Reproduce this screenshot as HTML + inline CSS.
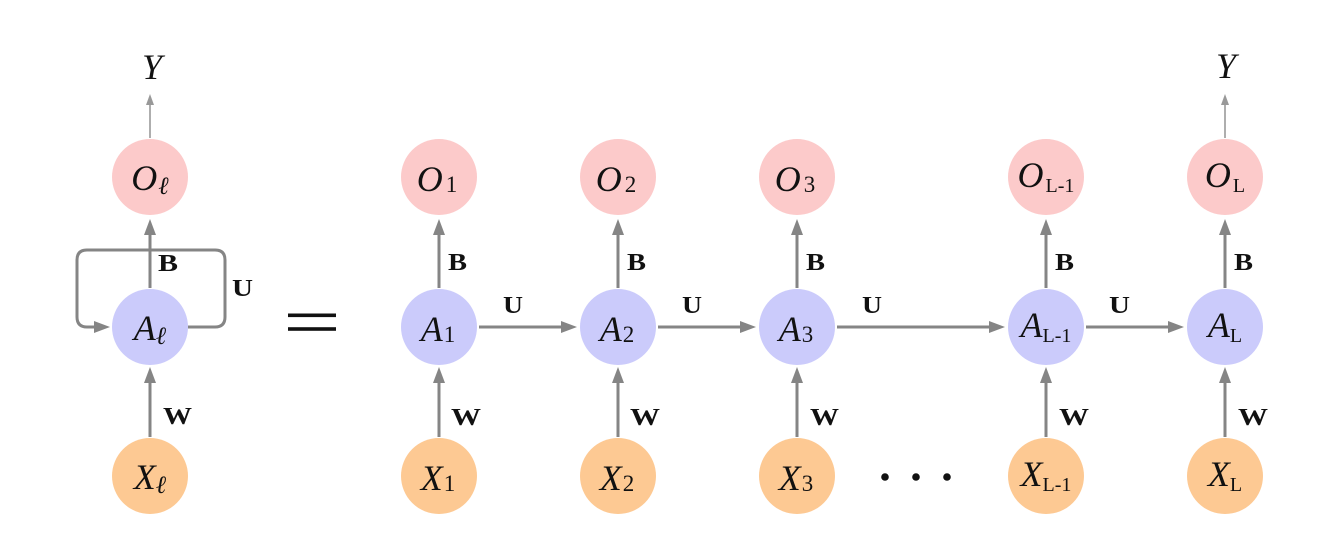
<!DOCTYPE html>
<html>
<head>
<meta charset="utf-8">
<style>
  html, body { margin: 0; padding: 0; background: #ffffff; }
  body { width: 1337px; height: 551px; overflow: hidden; }
  svg { display: block; }
  .m { font-family: "Liberation Serif", "DejaVu Serif", serif; font-style: italic; font-size: 36px; fill: #111; }
  .s { font-family: "Liberation Serif", "DejaVu Serif", serif; font-style: normal; font-size: 23px; fill: #111; }
  .sl { font-family: "Liberation Serif", "DejaVu Serif", serif; font-style: normal; font-size: 20px; fill: #111; }
  .ell { font-family: "DejaVu Serif", "Liberation Serif", serif; font-style: italic; font-size: 25px; fill: #111; }
  .b { font-family: "Liberation Serif", "DejaVu Serif", serif; font-weight: bold; font-size: 24px; fill: #111; }
</style>
</head>
<body>
<svg width="1337" height="551" viewBox="0 0 1337 551" xmlns="http://www.w3.org/2000/svg">

  <!-- ===== Circles ===== -->
  <g fill="#fccaca">
    <circle cx="150" cy="177" r="38"/>
    <circle cx="439" cy="177" r="38"/>
    <circle cx="618" cy="177" r="38"/>
    <circle cx="797" cy="177" r="38"/>
    <circle cx="1046" cy="177" r="38"/>
    <circle cx="1225" cy="177" r="38"/>
  </g>
  <g fill="#cbcbfb">
    <circle cx="150" cy="327" r="38"/>
    <circle cx="439" cy="327" r="38"/>
    <circle cx="618" cy="327" r="38"/>
    <circle cx="797" cy="327" r="38"/>
    <circle cx="1046" cy="327" r="38"/>
    <circle cx="1225" cy="327" r="38"/>
  </g>
  <g fill="#fdc993">
    <circle cx="150" cy="476" r="38"/>
    <circle cx="439" cy="476" r="38"/>
    <circle cx="618" cy="476" r="38"/>
    <circle cx="797" cy="476" r="38"/>
    <circle cx="1046" cy="476" r="38"/>
    <circle cx="1225" cy="476" r="38"/>
  </g>

  <!-- ===== Connectors ===== -->
  <g stroke="#858585" stroke-width="3" fill="none">
    <line x1="150" y1="437" x2="150" y2="380"/>
    <line x1="439" y1="437" x2="439" y2="380"/>
    <line x1="618" y1="437" x2="618" y2="380"/>
    <line x1="797" y1="437" x2="797" y2="380"/>
    <line x1="1046" y1="437" x2="1046" y2="380"/>
    <line x1="1225" y1="437" x2="1225" y2="380"/>
    <line x1="150" y1="288" x2="150" y2="232"/>
    <line x1="439" y1="288" x2="439" y2="232"/>
    <line x1="618" y1="288" x2="618" y2="232"/>
    <line x1="797" y1="288" x2="797" y2="232"/>
    <line x1="1046" y1="288" x2="1046" y2="232"/>
    <line x1="1225" y1="288" x2="1225" y2="232"/>
    <line x1="479" y1="327" x2="562" y2="327"/>
    <line x1="658" y1="327" x2="741" y2="327"/>
    <line x1="837" y1="327" x2="990" y2="327"/>
    <line x1="1086" y1="327" x2="1169" y2="327"/>
    <path d="M188 327 H215 Q225 327 225 317 V260 Q225 250 215 250 H87 Q77 250 77 260 V317 Q77 327 87 327 H96"/>
  </g>
  <g stroke="#999999" stroke-width="1.6" fill="none">
    <line x1="150" y1="138" x2="150" y2="103"/>
    <line x1="1225" y1="138" x2="1225" y2="103"/>
  </g>

  <!-- ===== Arrowheads ===== -->
  <g fill="#858585">
    <polygon points="150,367 144,383 156,383"/>
    <polygon points="439,367 433,383 445,383"/>
    <polygon points="618,367 612,383 624,383"/>
    <polygon points="797,367 791,383 803,383"/>
    <polygon points="1046,367 1040,383 1052,383"/>
    <polygon points="1225,367 1219,383 1231,383"/>
    <polygon points="150,219 144,235 156,235"/>
    <polygon points="439,219 433,235 445,235"/>
    <polygon points="618,219 612,235 624,235"/>
    <polygon points="797,219 791,235 803,235"/>
    <polygon points="1046,219 1040,235 1052,235"/>
    <polygon points="1225,219 1219,235 1231,235"/>
    <polygon points="577,327 561,321 561,333"/>
    <polygon points="756,327 740,321 740,333"/>
    <polygon points="1005,327 989,321 989,333"/>
    <polygon points="1184,327 1168,321 1168,333"/>
    <polygon points="110,327 94,321 94,333"/>
  </g>
  <g fill="#999999">
    <polygon points="150,94 146,105 154,105"/>
    <polygon points="1225,94 1221,105 1229,105"/>
  </g>

  <!-- ===== Equals sign & dots ===== -->
  <rect x="288" y="313.5" width="48" height="3.6" fill="#111"/>
  <rect x="288" y="327.2" width="48" height="3.6" fill="#111"/>
  <g fill="#111">
    <circle cx="885" cy="477" r="3.8"/>
    <circle cx="916" cy="477" r="3.8"/>
    <circle cx="947" cy="477" r="3.8"/>
  </g>

  <!-- ===== Y labels ===== -->
  <text class="m" x="152" y="79" text-anchor="middle">Y</text>
  <text class="m" x="1226" y="78" text-anchor="middle">Y</text>

  <!-- ===== Node labels ===== -->
  <text class="m" x="150" y="190" text-anchor="middle">O<tspan class="ell" dx="1" dy="4">ℓ</tspan></text>
  <text class="m" x="150" y="340" text-anchor="middle">A<tspan class="ell" dx="0" dy="4">ℓ</tspan></text>
  <text class="m" x="150" y="489" text-anchor="middle">X<tspan class="ell" dx="0" dy="4">ℓ</tspan></text>

  <text class="m" x="437" y="191" text-anchor="middle">O<tspan class="s" dx="3" dy="1">1</tspan></text>
  <text class="m" x="616" y="191" text-anchor="middle">O<tspan class="s" dx="3" dy="1">2</tspan></text>
  <text class="m" x="795" y="191" text-anchor="middle">O<tspan class="s" dx="3" dy="1">3</tspan></text>
  <text class="m" x="1046" y="187" text-anchor="middle">O<tspan class="sl" dx="2" dy="5">L-1</tspan></text>
  <text class="m" x="1225" y="187" text-anchor="middle">O<tspan class="sl" dx="2" dy="5">L</tspan></text>

  <text class="m" x="438" y="341" text-anchor="middle">A<tspan class="s" dx="1" dy="1">1</tspan></text>
  <text class="m" x="617" y="341" text-anchor="middle">A<tspan class="s" dx="1" dy="1">2</tspan></text>
  <text class="m" x="796" y="341" text-anchor="middle">A<tspan class="s" dx="1" dy="1">3</tspan></text>
  <text class="m" x="1046" y="337" text-anchor="middle">A<tspan class="sl" dx="0" dy="5">L-1</tspan></text>
  <text class="m" x="1225" y="337" text-anchor="middle">A<tspan class="sl" dx="0" dy="5">L</tspan></text>

  <text class="m" x="438" y="490" text-anchor="middle">X<tspan class="s" dx="1" dy="1">1</tspan></text>
  <text class="m" x="617" y="490" text-anchor="middle">X<tspan class="s" dx="1" dy="1">2</tspan></text>
  <text class="m" x="796" y="490" text-anchor="middle">X<tspan class="s" dx="1" dy="1">3</tspan></text>
  <text class="m" x="1046" y="486" text-anchor="middle">X<tspan class="sl" dx="0" dy="5">L-1</tspan></text>
  <text class="m" x="1225" y="486" text-anchor="middle">X<tspan class="sl" dx="0" dy="5">L</tspan></text>

  <!-- ===== Edge labels ===== -->
  <text class="b" x="158" y="271" textLength="20" lengthAdjust="spacingAndGlyphs">B</text>
  <text class="b" x="448" y="270" textLength="19" lengthAdjust="spacingAndGlyphs">B</text>
  <text class="b" x="627" y="270" textLength="19" lengthAdjust="spacingAndGlyphs">B</text>
  <text class="b" x="806" y="270" textLength="19" lengthAdjust="spacingAndGlyphs">B</text>
  <text class="b" x="1055" y="270" textLength="19" lengthAdjust="spacingAndGlyphs">B</text>
  <text class="b" x="1234" y="270" textLength="19" lengthAdjust="spacingAndGlyphs">B</text>

  <text class="b" x="232" y="296" textLength="21" lengthAdjust="spacingAndGlyphs">U</text>
  <text class="b" x="503" y="313" textLength="20" lengthAdjust="spacingAndGlyphs">U</text>
  <text class="b" x="682" y="313" textLength="20" lengthAdjust="spacingAndGlyphs">U</text>
  <text class="b" x="862" y="313" textLength="20" lengthAdjust="spacingAndGlyphs">U</text>
  <text class="b" x="1109" y="313" textLength="21" lengthAdjust="spacingAndGlyphs">U</text>

  <text class="b" x="163" y="424" textLength="29" lengthAdjust="spacingAndGlyphs">W</text>
  <text class="b" x="451" y="425" textLength="30" lengthAdjust="spacingAndGlyphs">W</text>
  <text class="b" x="630" y="425" textLength="30" lengthAdjust="spacingAndGlyphs">W</text>
  <text class="b" x="810" y="425" textLength="29" lengthAdjust="spacingAndGlyphs">W</text>
  <text class="b" x="1059" y="425" textLength="30" lengthAdjust="spacingAndGlyphs">W</text>
  <text class="b" x="1238" y="425" textLength="30" lengthAdjust="spacingAndGlyphs">W</text>
</svg>
</body>
</html>
